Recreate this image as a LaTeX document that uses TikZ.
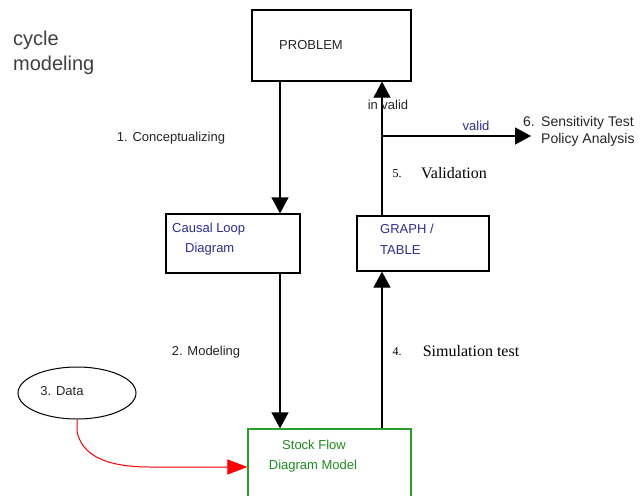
\documentclass[tikz,border=0pt]{standalone}
\usepackage{fontspec}
\setmainfont{Liberation Sans}
\newfontfamily\serifnum{Liberation Serif}
\usetikzlibrary{arrows.meta,shapes.geometric}
\definecolor{navy}{RGB}{45,45,150}
\definecolor{boxgreen}{RGB}{40,160,40}
\definecolor{txtgreen}{RGB}{30,140,30}
\tikzset{
  box/.style={draw=black, line width=1.2pt, rectangle, inner sep=0pt},
  lbl/.style={font=\fontsize{13}{15.5}\selectfont, inner sep=0pt, text=black!85},
  slbl/.style={font=\serifnum\fontsize{16}{19}\selectfont, inner sep=0pt},
  conn/.style={draw=black, line width=1.2pt, -{Triangle[width=17pt,length=16pt]}},
}
\begin{document}
\begin{tikzpicture}[x=1pt,y=-1pt]
\useasboundingbox (0,0) rectangle (644,495);
\fill[white] (0,0) rectangle (644,495);

% title
\node[anchor=west, inner sep=0pt, font=\fontsize{20}{25}\selectfont, text=black!75] (t1) at (13,40) {cycle};
\node[anchor=west, inner sep=0pt, font=\fontsize{20}{25}\selectfont, text=black!75] (t2) at (13,65) {modeling};

% boxes
\node[box, minimum width=159pt, minimum height=71pt] (problem) at (331.5,45.5) {};
\node[lbl] (problemtxt) at (311,45) {PROBLEM};

\node[box, minimum width=134pt, minimum height=59pt] (causal) at (233,243.5) {};
\node[lbl, anchor=west, text=navy] (c1) at (172,229) {Causal Loop};
\node[lbl, anchor=west, text=navy] (c2) at (185,249) {Diagram};

\node[box, minimum width=132pt, minimum height=55pt] (graph) at (423,243.5) {};
\node[lbl, anchor=west, text=navy] (g1) at (380,229) {GRAPH /};
\node[lbl, anchor=west, text=navy] (g2) at (380,250) {TABLE};

\node[box, draw=boxgreen, minimum width=163pt, minimum height=76pt] (stock) at (329.5,467) {};
\node[lbl, text=txtgreen] (s1) at (314,445) {Stock Flow};
\node[lbl, text=txtgreen] (s2) at (313,466) {Diagram Model};

\node[draw=black, line width=1pt, ellipse, minimum width=118pt, minimum height=52pt, inner sep=0pt] (data) at (77,393) {};
\node[lbl] (datatxt) at (62,391) {3. Data};

% x positions of vertical connectors
\coordinate (xa) at (280,0);
\coordinate (xb) at (382,0);
\coordinate (vsplit) at (382,136);
\coordinate (vend) at (531,136);

% connectors
\draw[conn] (problem.south -| xa) -- (causal.north -| xa);
\draw[conn] (causal.south -| xa) -- (stock.north -| xa);
\draw[conn] (stock.north -| xb) -- (graph.south -| xb);
\draw[conn] (graph.north -| xb) -- (problem.south -| xb);
\draw[conn] (vsplit) -- (vend);
\draw[red, line width=1pt, -{Triangle[width=15pt,length=20pt]}]
  (data.south) -- ++(0,12) .. controls (82,455) and (105,467) .. (150,467) -- (stock.west);

% labels
\node[lbl] (l1) at (171,138) {1. Conceptualizing};
\node[lbl] (l2) at (206,352) {2. Modeling};
\node[lbl] (linv) at (388,105) {in valid};
\node[lbl, text=navy] (lval) at (476,126) {valid};
\node[lbl, font=\fontsize{14}{16}\selectfont] (l6n) at (529,122) {6.};
\node[lbl, anchor=west, align=left, font=\fontsize{14}{16}\selectfont] (l6) at (541,131) {Sensitivity Test\\[1pt]Policy Analysis};
\node[slbl, font=\serifnum\fontsize{12}{14}\selectfont] (l5n) at (397,174) {5.};
\node[slbl] (l5) at (454,173) {Validation};
\node[slbl, font=\serifnum\fontsize{12}{14}\selectfont] (l4n) at (397,352) {4.};
\node[slbl] (l4) at (471,351) {Simulation test};
\end{tikzpicture}
\end{document}
